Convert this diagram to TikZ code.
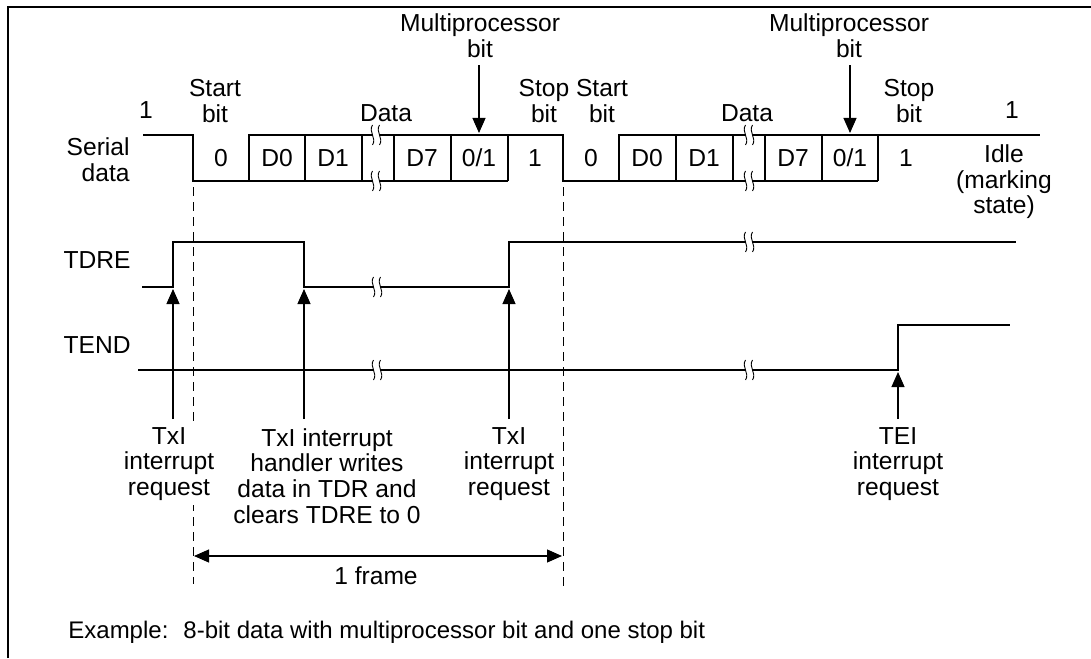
\documentclass[tikz,border=0pt]{standalone}
\usepackage{fontspec}
\setmainfont{Liberation Sans}
\usetikzlibrary{arrows.meta}
\begin{document}
\begin{tikzpicture}[x=0.5pt,y=-0.5pt,
  txt/.style={inner sep=0pt, font=\fontsize{12.3}{12.8}\selectfont, align=center},
  sig/.style={line width=0.7pt},
  wave/.style={line width=1pt},
  guide/.style={line width=0.5pt, dash pattern=on 4.5pt off 3pt},
  arr/.style={line width=0.55pt, -{Triangle[width=6.5pt,length=7.5pt]}},
  dblarr/.style={line width=0.55pt, {Triangle[width=6.5pt,length=7.5pt]}-{Triangle[width=6.5pt,length=7.5pt]}},
  brk/.pic={
    \fill[white] (-3.5,-7) rectangle (3.5,7);
    \draw[line width=0.45pt] (-3.5,-10) .. controls (-8,-3) and (1,3) .. (-3.5,10);
    \draw[line width=0.45pt] (3.5,-10) .. controls (-1,-3) and (8,3) .. (3.5,10);
  }
]
\useasboundingbox (0,0) rectangle (1091,658);
\draw[line width=1pt] (8,658) -- (8,7) -- (1091,7);

% ---- serial data waveform
\draw[sig] (143,135) -| (193,181) -- (508,181);
\draw[sig] (249,181) |- (563,135) -- (563,181) -- (878,181);
\draw[sig] (619,181) |- (1040,135);
\foreach \x in {305,362,394,451,508,676,733,765,822,878}
  \draw[sig] (\x,135) -- (\x,181);

% ---- TDRE / TEND
\draw[wave] (142,287) -- (173,287) -- (173,242) -- (304,242) -- (304,287) -- (509,287) -- (509,242) -- (1016,242);
\draw[wave] (138,370) -- (898,370) -- (898,325) -- (1010,325);

% ---- break marks
\foreach \p in {(376,135),(376,181),(749,135),(749,181),(377,287),(749,242),(377,370),(749,370)}
  \pic at \p {brk};

% ---- frame guides
\draw[guide] (193,187) -- (193,584);
\draw[guide] (563,187) -- (563,590);

% ---- labels top
\node[txt] (one1) at (146,110) {1};
\node[txt] (sb1) at (215,101) {Start\\bit};
\node[txt] (dat1) at (386,113) {Data};
\node[txt] (mp1) at (480,36) {Multiprocessor\\bit};
\node[txt] (st1) at (544,101) {Stop\\bit};
\node[txt] (sb2) at (602,101) {Start\\bit};
\node[txt] (dat2) at (747,113) {Data};
\node[txt] (mp2) at (849,36) {Multiprocessor\\bit};
\node[txt] (st2) at (909,101) {Stop\\bit};
\node[txt] (one2) at (1012,110) {1};
\node[txt, align=right, anchor=east] (ser) at (130,160) {Serial\\data};

% bit contents
\node[txt] (b0a) at (221,158) {0};
\node[txt] (b1a) at (277,158) {D0};
\node[txt] (b2a) at (333,158) {D1};
\node[txt] (b7a) at (422,158) {D7};
\node[txt] (bma) at (479,158) {0/1};
\node[txt] (bsa) at (535,158) {1};
\node[txt] (b0b) at (591,158) {0};
\node[txt] (b1b) at (647,158) {D0};
\node[txt] (b2b) at (704,158) {D1};
\node[txt] (b7b) at (793,158) {D7};
\node[txt] (bmb) at (850,158) {0/1};
\node[txt] (bsb) at (906,158) {1};
\node[txt] (idle) at (1004,182) {Idle\\(marking\\state)};

\coordinate (mpt1) at (479,133);
\coordinate (mpt2) at (850,133);
\draw[arr] (mp1.south) ++(-1,7) -- (mpt1);
\draw[arr] (mp2.south) ++(1,7) -- (mpt2);

% ---- signal names
\node[txt, anchor=east] (tdre) at (131,260) {TDRE};
\node[txt, anchor=east] (tend) at (131,345) {TEND};

% ---- interrupt labels and arrows
\node[txt, fill=white, inner sep=2pt] (tx1) at (169,464) {TxI\\interrupt\\request};
\node[txt] (hw) at (327,476) {TxI interrupt\\handler writes\\data in TDR and\\clears TDRE to 0};
\node[txt] (tx2) at (509,464) {TxI\\interrupt\\request};
\node[txt] (tei) at (898,464) {TEI\\interrupt\\request};

\coordinate (a1b) at (173,419); \coordinate (a1t) at (173,289);
\coordinate (a2b) at (304,419); \coordinate (a2t) at (304,289);
\coordinate (a3b) at (509,419); \coordinate (a3t) at (509,289);
\coordinate (a4b) at (898,419); \coordinate (a4t) at (898,372);
\draw[arr] (a1b) -- (a1t);
\draw[arr] (a2b) -- (a2t);
\draw[arr] (a3b) -- (a3t);
\draw[arr] (a4b) -- (a4t);

% ---- frame length
\coordinate (fl) at (194,556);
\coordinate (fr) at (562,556);
\draw[dblarr] (fl) -- (fr);
\node[txt] (frm) at (376,576) {1 frame};

\node[txt, anchor=west, font=\fontsize{12}{13}\selectfont] (ex) at (68,632) {Example:\hspace{7.5pt}8-bit data with multiprocessor bit and one stop bit};
\end{tikzpicture}
\end{document}
